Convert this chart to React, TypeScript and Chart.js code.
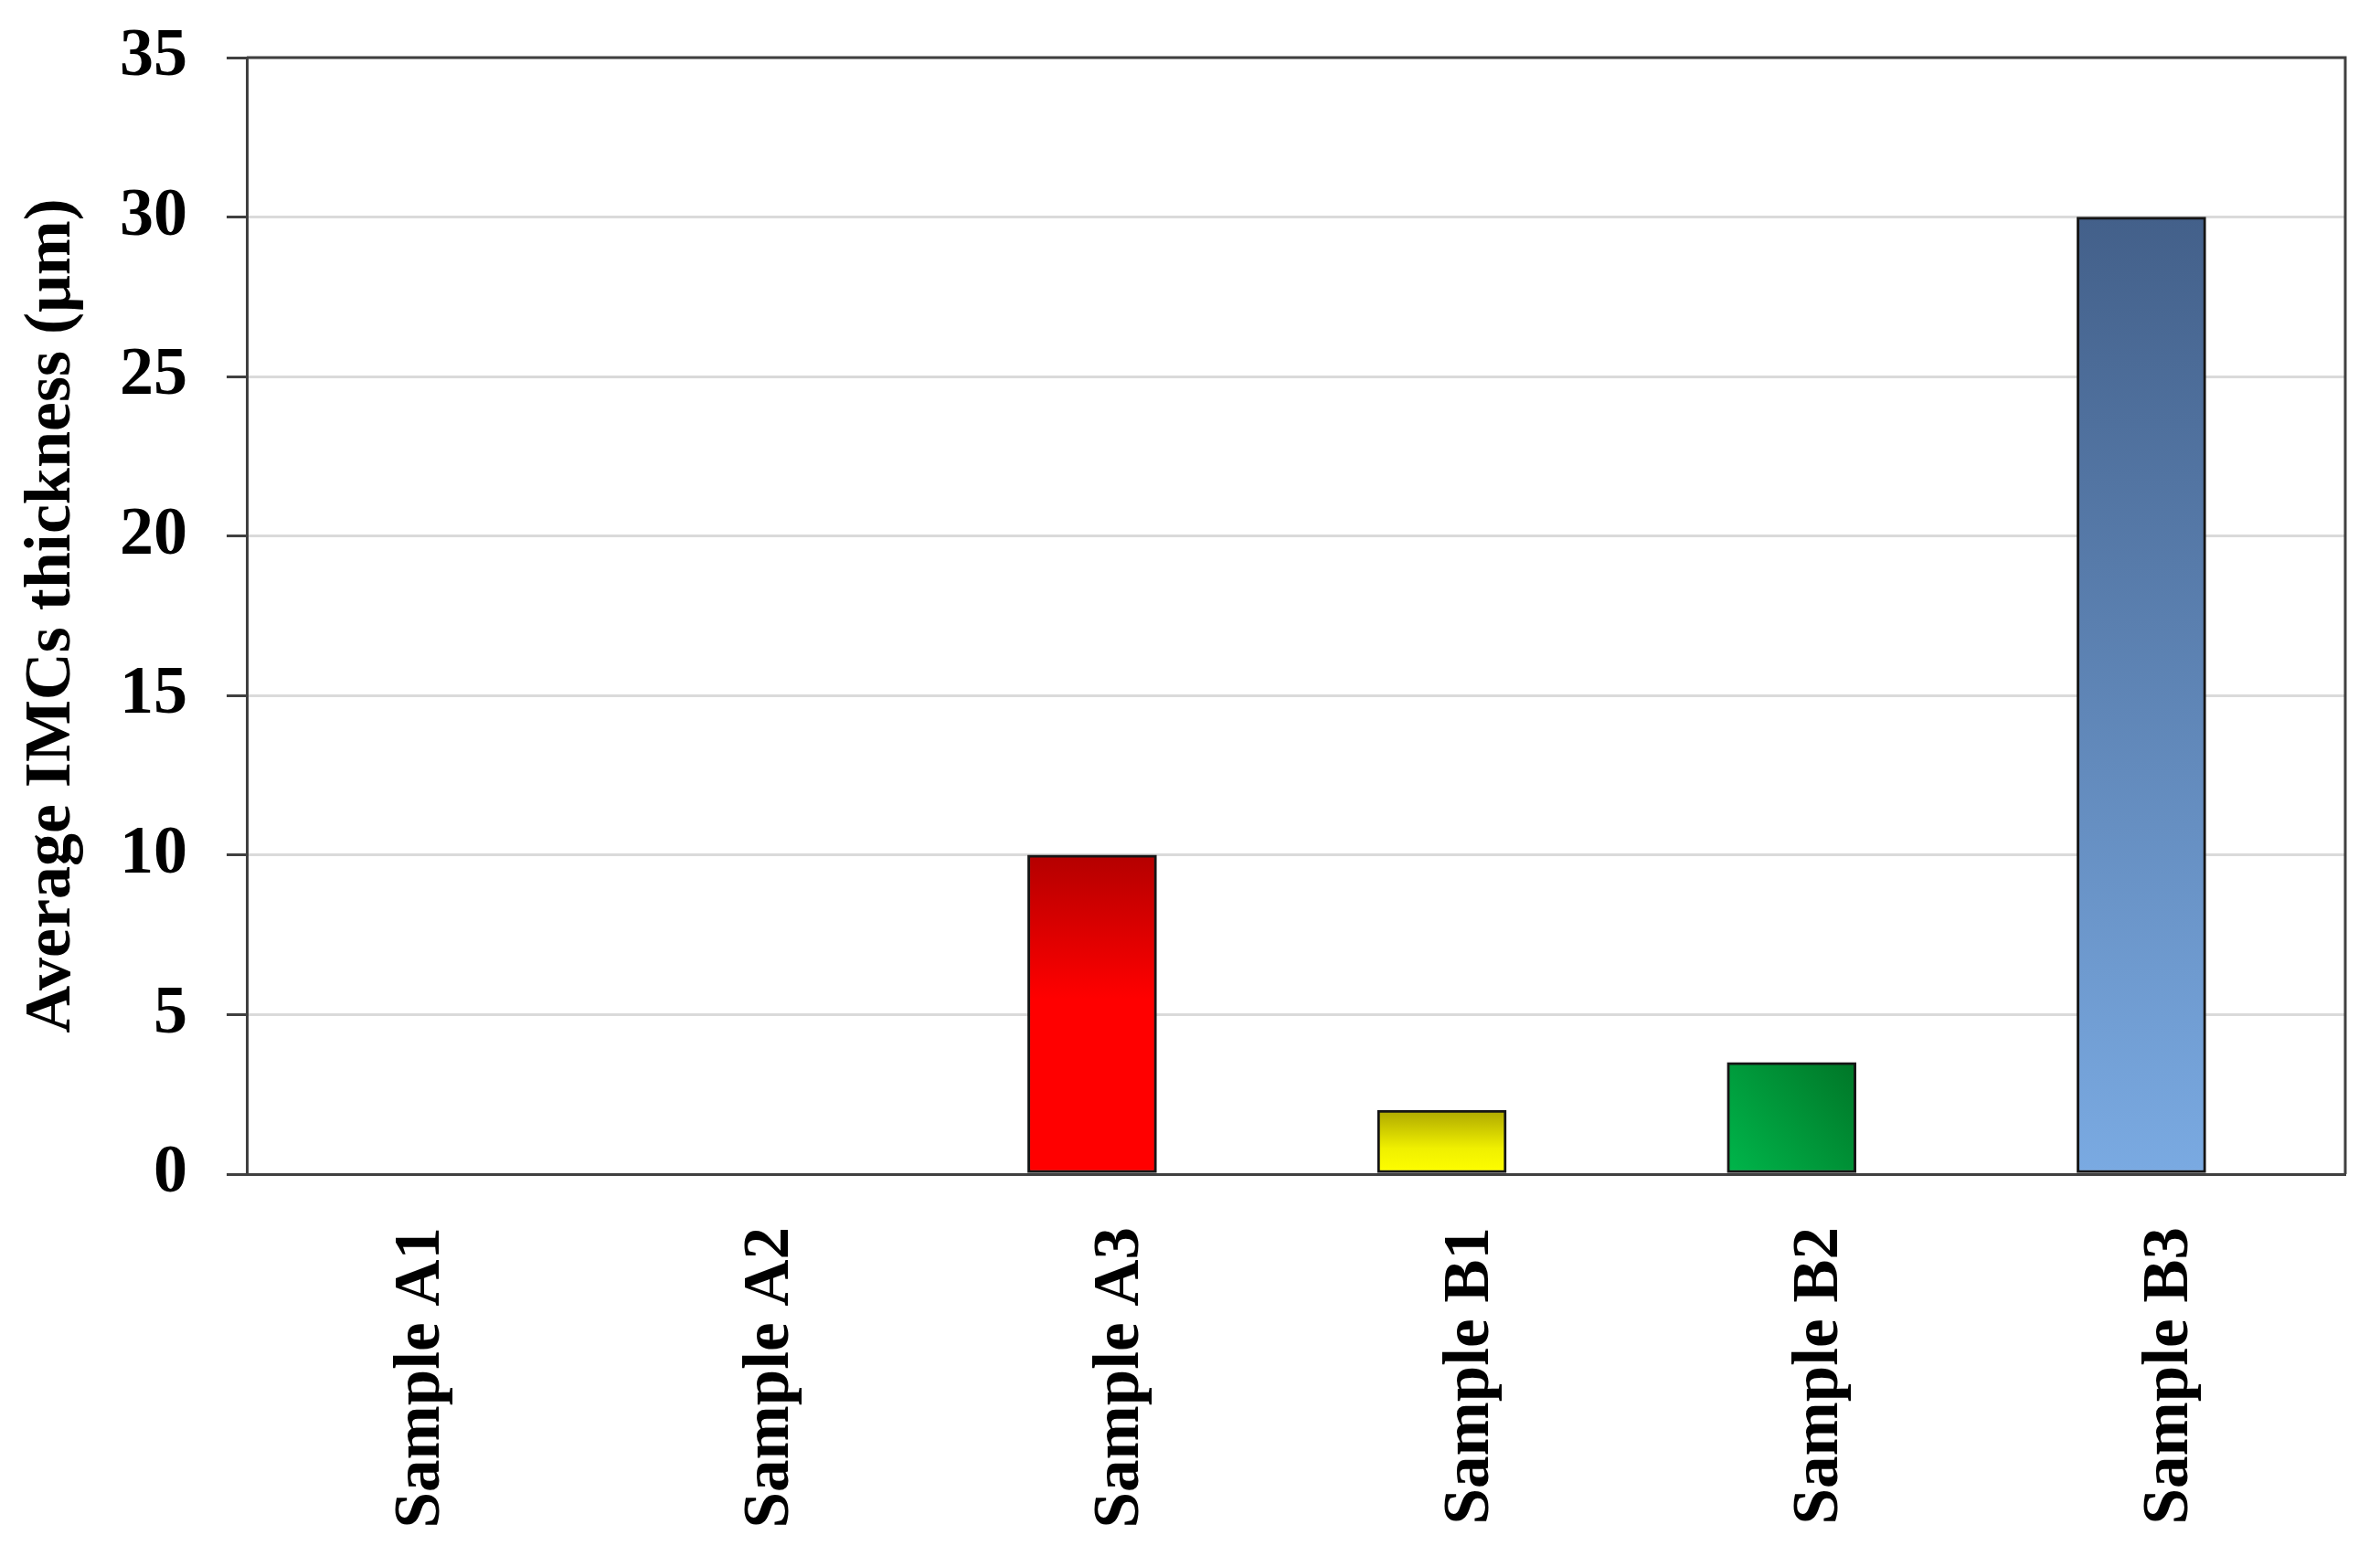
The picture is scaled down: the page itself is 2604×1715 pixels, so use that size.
import React, { useEffect, useRef } from "react";
import { Chart, registerables } from "chart.js";

Chart.register(...registerables);

const categories = ["Sample A1", "Sample A2", "Sample A3", "Sample B1", "Sample B2", "Sample B3"];
const thickness = [0, 0, 10, 2, 3.5, 30];
const yTicks = [0, 5, 10, 15, 20, 25, 30, 35];
const yTitle = "Average IMCs thickness (μm)";

// gradient fills per bar: [direction, stops]
const fills: [string, [number, string][]][] = [
  ["v", [[0, "#888888"], [1, "#888888"]]],
  ["v", [[0, "#888888"], [1, "#888888"]]],
  ["v", [[0, "#b40000"], [0.45, "#ff0000"], [1, "#ff0000"]]],
  ["v", [[0, "#aea800"], [0.6, "#f0f000"], [1, "#ffff00"]]],
  ["d", [[0, "#00b84c"], [1, "#007426"]]],
  ["v", [[0, "#43608a"], [1, "#7aaae2"]]],
];

const FONT = "'Liberation Serif', 'Times New Roman', serif";
const AXIS = "#404040";

const boxPlugin = {
  id: "box",
  afterDraw(chart: any) {
    const { ctx, chartArea } = chart;
    ctx.save();
    ctx.strokeStyle = AXIS;
    ctx.lineWidth = 3;
    ctx.beginPath();
    ctx.moveTo(chartArea.left, chartArea.top);
    ctx.lineTo(chartArea.right, chartArea.top);
    ctx.lineTo(chartArea.right, chartArea.bottom);
    ctx.stroke();
    ctx.restore();
  },
};

export default function App() {
  const ref = useRef<HTMLCanvasElement>(null);
  useEffect(() => {
    if (!ref.current) return;
    const fillFor = (c: any) => {
      const chart = c.chart;
      if (!chart.chartArea || !chart.scales.y || !chart.scales.xb) return "#888";
      const i = c.dataIndex;
      const ys = chart.scales.y;
      const xs = chart.scales.xb;
      const top = ys.getPixelForValue(thickness[i]);
      const bot = ys.getPixelForValue(0);
      const [dir, stops] = fills[i];
      let g;
      if (dir === "d") {
        g = chart.ctx.createLinearGradient(xs.getPixelForValue(i - 0.2), bot, xs.getPixelForValue(i + 0.2), top);
      } else {
        g = chart.ctx.createLinearGradient(0, top, 0, bot);
      }
      stops.forEach(([o, col]) => g.addColorStop(o, col));
      return g;
    };
    const chart = new Chart(ref.current, {
      type: "bar",
      data: {
        labels: categories,
        datasets: [
          {
            data: thickness.map((v, i) => ({ x: i, y: v })) as any,
            xAxisID: "xb",
            yAxisID: "y",
            backgroundColor: fillFor,
            borderColor: "#151515",
            borderWidth: 3,
            borderSkipped: false,
            barThickness: 141,
          },
        ],
      },
      options: {
        responsive: false,
        animation: false,
        layout: { padding: { top: 63, right: 38, left: 0, bottom: 0 } },
        plugins: { legend: { display: false }, tooltip: { enabled: false } },
        scales: {
          xb: {
            type: "linear",
            display: false,
            min: -0.417,
            max: 5.583,
            offset: false,
          },
          x: {
            type: "category",
            position: "bottom",
            offset: true,
            grid: { display: false, drawTicks: false },
            border: { display: true, color: AXIS, width: 3 },
            ticks: {
              autoSkip: false,
              minRotation: 90,
              maxRotation: 90,
              padding: 58,
              color: "#000",
              font: { family: FONT, size: 71, weight: "bold" },
            },
            afterFit: (s: any) => {
              s.height = 430;
              s.paddingLeft = 0;
              s.paddingRight = 0;
            },
          },
          y: {
            min: 0,
            max: 35,
            afterBuildTicks: (s: any) => {
              s.ticks = yTicks.map((v) => ({ value: v }));
            },
            grid: {
              color: "#dadada",
              lineWidth: 3,
              tickColor: AXIS,
              tickLength: 22,
              tickWidth: 3,
            },
            border: { display: true, color: AXIS, width: 3 },
            ticks: {
              padding: 43,
              color: "#000",
              font: { family: FONT, size: 74, weight: "bold" },
            },
            title: {
              display: true,
              text: yTitle,
              color: "#000",
              padding: { top: 14, bottom: 0 },
              font: { family: FONT, size: 72, weight: "bold" },
            },
            afterFit: (s: any) => {
              s.width = 270;
              s.paddingTop = 0;
              s.paddingBottom = 0;
            },
          },
        },
      },
      plugins: [boxPlugin],
    });
    return () => chart.destroy();
  }, []);
  return (
    <div style={{ position: "fixed", left: 0, top: 0, width: 2604, height: 1715, background: "#fff" }}>
      <canvas ref={ref} width={2604} height={1715} style={{ width: 2604, height: 1715, display: "block" }} />
    </div>
  );
}
